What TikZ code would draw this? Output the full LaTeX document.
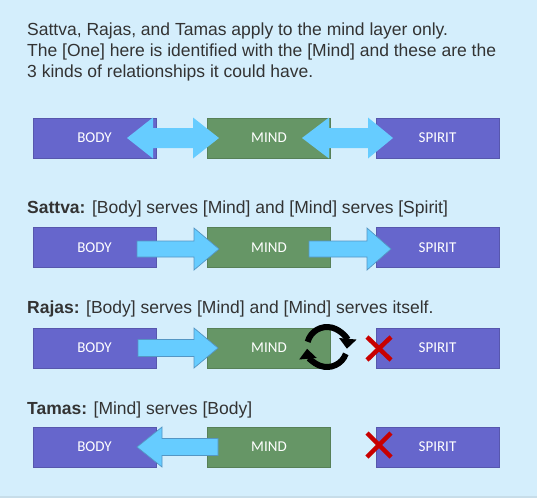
\documentclass[tikz,border=0pt]{standalone}
\usepackage{fontspec}
\setmainfont{Liberation Sans}
\newfontfamily\etiqueta{Carlito}
\usepackage{tikz}
\usetikzlibrary{arrows.meta,calc,positioning}
\definecolor{fondo}     {RGB}{212,238,252}
\definecolor{morado}    {RGB}{102,102,204}
\definecolor{verde}     {RGB}{102,150,102}
\definecolor{celeste}   {RGB}{102,204,255}
\definecolor{celesteb}  {RGB}{84,150,196}
\definecolor{rojo}      {RGB}{200,0,0}
\definecolor{gristexto} {RGB}{51,51,51}

\begin{document}
\begin{tikzpicture}[x=1pt,y=-1pt,
  layer/.style={minimum width=123pt,minimum height=40pt,inner sep=0pt,text=white,
                font=\etiqueta\fontsize{15}{17}\selectfont,line width=0.5pt},
  bodylayer/.style={layer,fill=morado,draw=morado!85!black},
  mindlayer/.style={layer,fill=verde,draw=verde!85!black},
  bloque/.style={fill=celeste,draw=celesteb,line width=0.7pt},
  cruz/.style={rojo,line width=4.5pt},
  titulo/.style={anchor=base west,inner sep=0pt,text=gristexto,
                 font=\fontsize{17.5}{21}\selectfont}]
\useasboundingbox (0,0) rectangle (537,498);
\fill[fondo] (0,0) rectangle (537,498);
\fill[fondo!85!gray] (0,495.5) rectangle (537,498);

\node[anchor=north west,align=left,inner sep=0pt,text=gristexto,
      font=\fontsize{17.5}{21}\selectfont] (intro) at (27,23.1)
  {Sattva, Rajas, and Tamas apply to the mind layer only.\\
   The [One] here is identified with the [Mind] and these are the\\
   3 kinds of relationships it could have.};
\node[titulo] (sattva) at (27,213) {\textbf{Sattva:} [Body] serves [Mind] and [Mind] serves [Spirit]};
\node[titulo] (rajas)  at (27,313) {\textbf{Rajas:} [Body] serves [Mind] and [Mind] serves itself.};
\node[titulo] (tamas)  at (27,414) {\textbf{Tamas:} [Mind] serves [Body]};

\foreach \r/\y in {1/138,2/247.5,3/348,4/447} {
  \node[bodylayer] (body\r) at (94.5,\y) {BODY};
  \node[mindlayer,right=51pt of body\r] (mind\r) {MIND};
  \node[bodylayer,right=45pt of mind\r] (spirit\r) {SPIRIT};
}

\fill[celeste] (127,138) -- (153,117.5) -- (153,128) -- (193,128) -- (193,117.5) -- (219,138)
  -- (193,158.5) -- (193,148) -- (153,148) -- (153,158.5) -- cycle;
\fill[celeste] (302,138) -- (329,117.5) -- (329,128) -- (368,128) -- (368,117.5) -- (393,138)
  -- (368,158.5) -- (368,148) -- (329,148) -- (329,158.5) -- cycle;

\draw[bloque] (137,241) -- (194,241) -- (194,228) -- (219,249) -- (194,270) -- (194,257) -- (137,257) -- cycle;
\draw[bloque] (309,241) -- (367,241) -- (367,228) -- (391,249) -- (367,270) -- (367,257) -- (309,257) -- cycle;

\draw[bloque] (138,339.5) -- (194,339.5) -- (194,328) -- (218,348) -- (194,368) -- (194,356.5) -- (138,356.5) -- cycle;
\coordinate (ciclo) at (327,347);
\draw[line width=6pt,-{Triangle[length=10pt,width=17pt]}] ($(ciclo)+(-165:20)$) arc (-165:5:20);
\draw[line width=6pt,-{Triangle[length=10pt,width=17pt]}] ($(ciclo)+(20:20)$) arc (20:175:20);
\coordinate (no3) at (379,348.5);
\draw[cruz] ($(no3)+(-12,-11.5)$) -- ($(no3)+(12,11.5)$);
\draw[cruz] ($(no3)+(-12,11.5)$) -- ($(no3)+(12,-11.5)$);

\draw[bloque] (137,447) -- (162,427) -- (162,438.5) -- (218,438.5) -- (218,455.5) -- (162,455.5) -- (162,467) -- cycle;
\coordinate (no4) at (379,445);
\draw[cruz] ($(no4)+(-12,-12)$) -- ($(no4)+(12,12)$);
\draw[cruz] ($(no4)+(-12,12)$) -- ($(no4)+(12,-12)$);
\end{tikzpicture}
\end{document}
